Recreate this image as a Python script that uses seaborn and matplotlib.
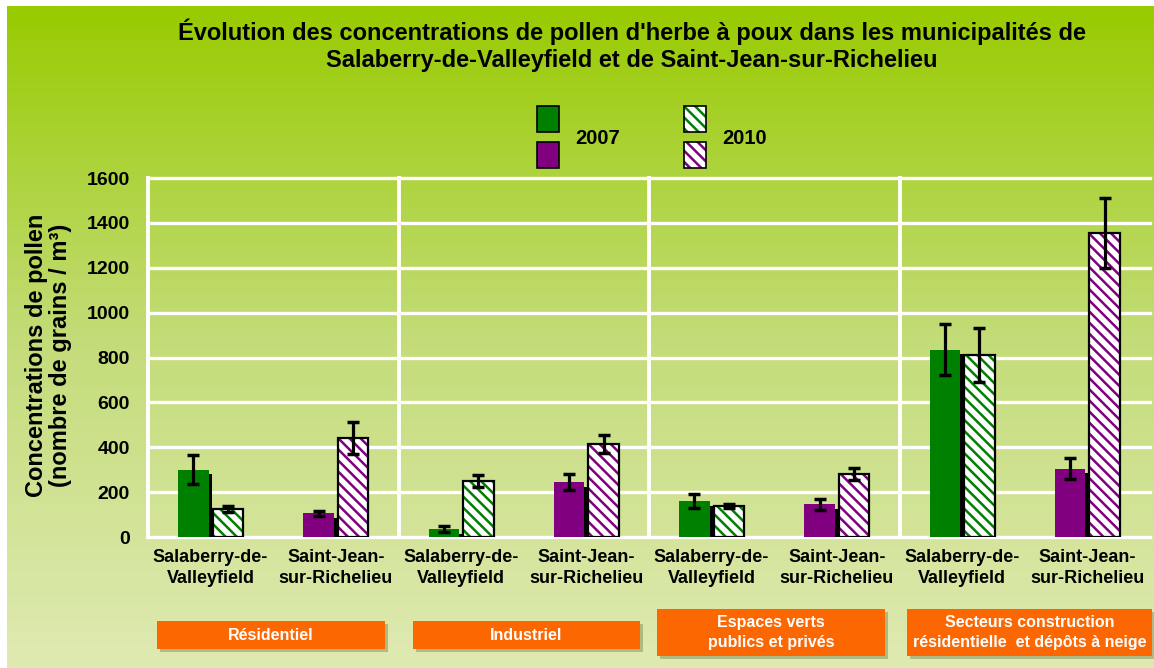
import numpy as np
import pandas as pd
import seaborn as sns
import matplotlib.pyplot as plt
from matplotlib.patches import Rectangle
from matplotlib.colors import LinearSegmentedColormap

# Chart data
sites = ["Salaberry-de-\nValleyfield", "Saint-Jean-\nsur-Richelieu"] * 4
zones = ["Résidentiel", "Industriel", "Espaces verts\npublics et privés",
         "Secteurs construction\nrésidentielle  et dépôts à neige"]
years = ["2007", "2010"]
val_2007 = [300, 105, 35, 245, 160, 145, 835, 305]
val_2010 = [125, 440, 250, 415, 138, 280, 810, 1355]
err_2007 = [65, 12, 12, 36, 31, 25, 115, 45]
err_2010 = [12, 72, 28, 40, 10, 27, 120, 158]
city_colors = ["#008000", "#800080"]
y_ticks = [0, 200, 400, 600, 800, 1000, 1200, 1400, 1600]
title_lines = ["Évolution des concentrations de pollen d'herbe à poux dans les municipalités de",
               "Salaberry-de-Valleyfield et de Saint-Jean-sur-Richelieu"]

df = pd.DataFrame({
    "slot": [str(i) for i in range(len(sites))] * 2,
    "year": [years[0]] * len(sites) + [years[1]] * len(sites),
    "value": val_2007 + val_2010,
})
errs = [err_2007, err_2010]

plt.rcParams['font.family'] = ['Liberation Sans', 'DejaVu Sans']
plt.rcParams['hatch.linewidth'] = 1.8

W, H = 1154, 668
fig = plt.figure(figsize=(W / 100, H / 100), dpi=100, facecolor="white")


def fx(x):
    return x / W


def fy(y):
    return 1 - y / H


# green gradient background
bg = fig.add_axes([fx(7), 0, 1 - fx(7), fy(6)], zorder=-10)
grad_cmap = LinearSegmentedColormap.from_list("bg", ["#98cb00", "#c3dc78", "#dfeab2"])
bg.imshow(np.linspace(0, 1, 256).reshape(-1, 1), cmap=grad_cmap, aspect="auto",
          extent=[0, 1, 0, 1])
bg.axis("off")

ax = fig.add_axes([fx(148), fy(537), fx(1150) - fx(148), fy(178) - fy(537)])
ax.patch.set_alpha(0)

sns.barplot(data=df, x="slot", y="value", hue="year", width=0.55, gap=0.12,
            errorbar=None, saturation=1, legend=False, ax=ax)

bar_conts = list(ax.containers)
for j, cont in enumerate(bar_conts):
    for i, bar in enumerate(cont):
        col = city_colors[i % 2]
        h = bar.get_height()
        x0, w = bar.get_x(), bar.get_width()
        if j == 0:
            bar.set_facecolor(col)
            bar.set_edgecolor("none")
            # little dark shadow on the right side
            ax.add_patch(Rectangle((x0 + w, 0), 0.03, max(h - 20, 0), color="black",
                                   zorder=1.5, lw=0))
        else:
            bar.set_facecolor("white")
            bar.set_edgecolor(col)
            bar.set_linewidth(0)
            bar.set_hatch("\\\\\\")
            ax.add_patch(Rectangle((x0, 0), w, h, fill=False, edgecolor="black",
                                   lw=1.6, zorder=2))
        ax.errorbar(x0 + w / 2, h, yerr=errs[j][i], color="black", elinewidth=2.3,
                    capsize=4.5, capthick=2.5, zorder=3)

# white grid
for t in y_ticks:
    ax.axhline(t, color="white", lw=2.4, zorder=0.5, clip_on=False)
for xs in [-0.5, 1.5, 3.5, 5.5]:
    ax.axvline(xs, color="white", lw=2.8, zorder=0.5, clip_on=False)

ax.set_ylim(0, 1600)
ax.set_xlim(-0.5, len(sites) - 0.5)
ax.set_yticks(y_ticks)
ax.set_yticklabels([str(t) for t in y_ticks], fontsize=14, fontweight="bold")
ax.set_xticks(range(len(sites)))
ax.set_xticklabels(sites, fontsize=13, fontweight="bold", linespacing=1.3)
ax.tick_params(length=0)
ax.tick_params(axis="y", pad=13)
ax.tick_params(axis="x", pad=9)
ax.set_xlabel("")
ax.set_ylabel("Concentrations de pollen\n(nombre de grains / m³)", fontsize=17,
              fontweight="bold", va="center", linespacing=1.05)
ax.yaxis.set_label_coords(-0.099, 0.505)
for s in ax.spines.values():
    s.set_visible(False)

# title
for line, ty in zip(title_lines, [32, 60]):
    fig.text(fx(632), fy(ty), line, ha="center", va="center", fontsize=17, fontweight="bold")

# legend
for k, (lx, txt) in enumerate([(537, years[0]), (684, years[1])]):
    for r, col in enumerate(city_colors):
        top = 106 + r * 36
        if k == 0:
            rect = Rectangle((fx(lx), fy(top + 26)), fx(22), 26 / H, transform=fig.transFigure,
                             facecolor=col, edgecolor="black", lw=1.2)
        else:
            rect = Rectangle((fx(lx), fy(top + 26)), fx(22), 26 / H, transform=fig.transFigure,
                             facecolor="white", edgecolor=col, lw=0, hatch="\\\\\\")
            fig.add_artist(rect)
            rect = Rectangle((fx(lx), fy(top + 26)), fx(22), 26 / H, transform=fig.transFigure,
                             fill=False, edgecolor="black", lw=1.2)
        fig.add_artist(rect)
    fig.text(fx(lx + 38), fy(139), txt, fontsize=14.5, fontweight="bold", va="center")

# orange zone boxes
box_px = [(157, 621, 385, 649), (413, 621, 640, 649), (657, 609, 885, 656), (907, 609, 1152, 656)]
for (x1, y1, x2, y2), name in zip(box_px, zones):
    fig.add_artist(Rectangle((fx(x1 + 3), fy(y2 + 3)), fx(x2 - x1), (y2 - y1) / H,
                             transform=fig.transFigure, facecolor="#9aa870", lw=0, alpha=0.7))
    fig.add_artist(Rectangle((fx(x1), fy(y2)), fx(x2 - x1), (y2 - y1) / H,
                             transform=fig.transFigure, facecolor="#fd6702", lw=0))
    fig.text(fx((x1 + x2) / 2), fy((y1 + y2) / 2), name, ha="center", va="center",
             color="white", fontsize=11.5, fontweight="bold", linespacing=1.35)

fig.savefig("out.png", dpi=100)
